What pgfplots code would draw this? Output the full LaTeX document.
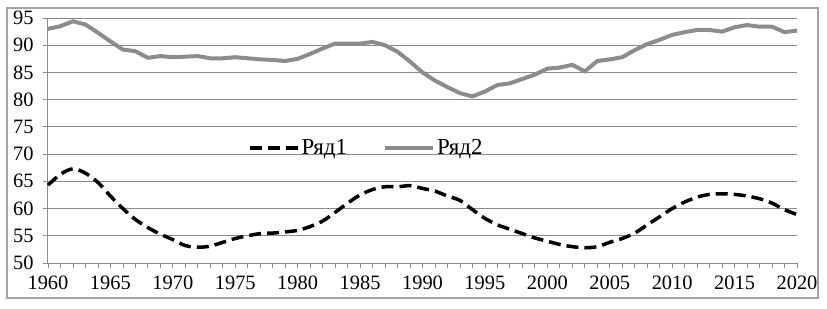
\documentclass[border=0pt]{standalone}
\usepackage{pgfplots}
\pgfplotsset{compat=1.18}
\usepackage{fontspec}
\setmainfont{Liberation Serif}
\definecolor{gridc}{RGB}{140,140,140}
\definecolor{serb}{RGB}{140,140,140}
\pgfplotstableread{
year a b
1960 64.3 93.0
1961 66.3 93.5
1962 67.3 94.4
1963 66.5 93.8
1964 64.8 92.3
1965 62.3 90.7
1966 60.0 89.2
1967 58.0 88.9
1968 56.5 87.7
1969 55.3 88.0
1970 54.3 87.8
1971 53.2 87.9
1972 52.9 88.0
1973 53.1 87.6
1974 53.8 87.6
1975 54.5 87.8
1976 55.0 87.6
1977 55.4 87.4
1978 55.5 87.3
1979 55.7 87.1
1980 56.0 87.5
1981 56.7 88.4
1982 57.7 89.4
1983 59.3 90.3
1984 61.0 90.3
1985 62.5 90.3
1986 63.5 90.6
1987 64.0 90.0
1988 64.0 88.8
1989 64.2 87.0
1990 63.7 85.0
1991 63.2 83.5
1992 62.3 82.3
1993 61.5 81.2
1994 59.8 80.6
1995 58.2 81.5
1996 57.0 82.7
1997 56.2 83.0
1998 55.4 83.8
1999 54.6 84.6
2000 54.0 85.7
2001 53.4 85.9
2002 53.0 86.4
2003 52.8 85.2
2004 53.0 87.1
2005 53.8 87.4
2006 54.5 87.8
2007 55.5 89.1
2008 57.0 90.2
2009 58.5 91.0
2010 60.0 91.9
2011 61.2 92.4
2012 62.1 92.8
2013 62.6 92.8
2014 62.7 92.5
2015 62.6 93.3
2016 62.3 93.7
2017 61.8 93.4
2018 61.0 93.4
2019 59.8 92.4
2020 58.9 92.7
}\data
\begin{document}
\begin{tikzpicture}[x=1bp,y=1bp]
\useasboundingbox (-48,-45) rectangle (779,263);
\draw[gridc!80, line width=1.2bp] (-41,-35) rectangle (770,255);
\begin{axis}[
  at={(0,0)}, anchor=south west,
  scale only axis, width=749bp, height=245bp,
  xmin=1960, xmax=2020, ymin=50, ymax=95,
  axis x line*=bottom, axis y line*=left,
  axis line style={-, gridc, line width=1bp},
  xtick={1960,1965,...,2020}, minor x tick num=4,
  ytick={50,55,...,95},
  ymajorgrids, grid style={gridc, line width=1bp},
  tick align=outside,
  major tick length=5bp, minor tick length=5bp,
  tick style={gridc, line width=0.8bp},
  every tick label/.append style={font=\fontsize{20.5}{20.5}\selectfont},
  yticklabel style={xshift=-6bp},
  xticklabel style={yshift=-4bp},
  /pgf/number format/assume math mode=true,
  /pgf/number format/1000 sep={},
  clip=false,
  legend style={at={(0.425,0.47)}, anchor=center, draw=none, fill=none,
    font=\fontsize{23}{23}\selectfont, legend columns=2,
    /tikz/every even column/.append style={column sep=34bp}},
  legend image code/.code={\draw[#1] (0bp,0bp) -- (48bp,0bp);},
]
\addplot[black, line width=3.5bp, dash pattern=on 12bp off 6bp, smooth, tension=0.5] table[x=year,y=a] {\data};
\addlegendentry{Ряд1}
\addplot[serb, line width=4bp] table[x=year,y=b] {\data};
\addlegendentry{Ряд2}
\end{axis}
\end{tikzpicture}
\end{document}
